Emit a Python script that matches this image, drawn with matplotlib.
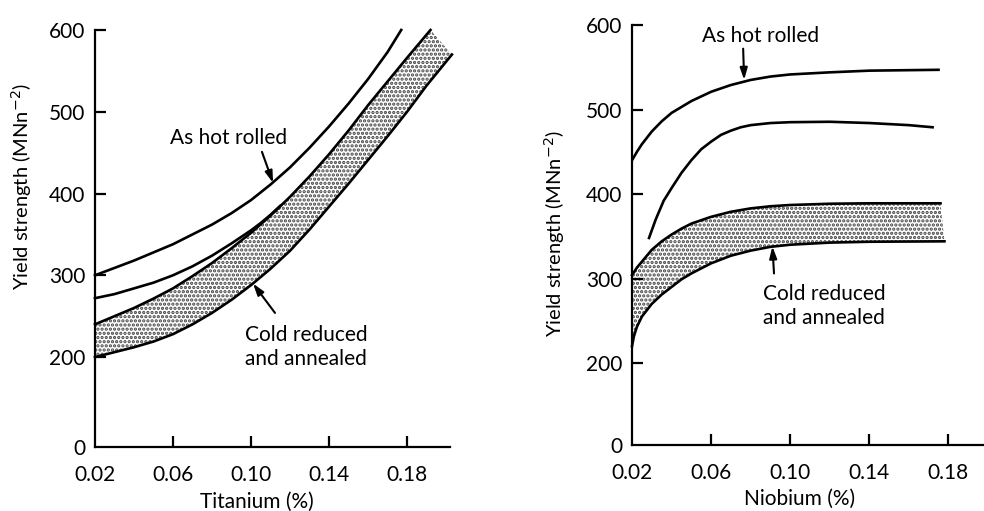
import numpy as np
import matplotlib
matplotlib.use("Agg")
import matplotlib.pyplot as plt

plt.rcParams["font.family"] = ["Lato", "DejaVu Sans"]
plt.rcParams["hatch.linewidth"] = 1.6

# Titanium panel (left)
ti_top_x = [0.02, 0.03, 0.04, 0.05, 0.06, 0.07, 0.08, 0.09, 0.10, 0.11, 0.12,
            0.13, 0.14, 0.15, 0.16, 0.17, 0.177]
ti_top_y = [300, 309, 318, 328, 338, 350, 362, 376, 392, 411, 432,
            456, 482, 510, 540, 573, 600]
ti_mid_x = [0.02, 0.03, 0.04, 0.05, 0.06, 0.07, 0.08, 0.09, 0.10, 0.105, 0.11, 0.115]
ti_mid_y = [272, 277, 284, 291, 300, 311, 324, 339, 355, 364, 374, 385]
ti_band_hi_x = [0.02, 0.03, 0.04, 0.05, 0.06, 0.07, 0.08, 0.09, 0.10, 0.11, 0.12,
                0.13, 0.14, 0.15, 0.16, 0.17, 0.18, 0.192]
ti_band_hi_y = [240, 250, 260, 271.5, 284, 299, 315, 333, 352, 373, 396,
                421, 448, 477, 508, 537, 566, 600]
ti_band_lo_x = [0.02, 0.03, 0.04, 0.05, 0.06, 0.07, 0.08, 0.09, 0.10, 0.11, 0.12,
                0.13, 0.14, 0.15, 0.16, 0.17, 0.18, 0.19, 0.203]
ti_band_lo_y = [200, 206, 212, 219, 228, 240, 254, 270, 288, 308, 330,
                356, 384, 412, 441, 470, 500, 532, 570]

# Niobium panel (right)
nb_top_x = [0.02, 0.0225, 0.025, 0.03, 0.035, 0.04, 0.045, 0.05, 0.06, 0.07, 0.08,
            0.09, 0.10, 0.12, 0.14, 0.175]
nb_top_y = [440, 450, 459, 474, 486, 496, 503, 510, 521, 529, 535,
            539, 541.5, 544, 546, 547]
nb_mid_x = [0.0286, 0.032, 0.036, 0.04, 0.045, 0.05, 0.055, 0.06, 0.065, 0.07, 0.075,
            0.08, 0.09, 0.10, 0.12, 0.14, 0.16, 0.172]
nb_mid_y = [348, 370, 392, 407, 425, 440, 453, 462, 470, 475, 479,
            481.5, 484, 485, 485.5, 484, 481.5, 479]
nb_band_hi_x = [0.02, 0.0225, 0.025, 0.03, 0.035, 0.04, 0.045, 0.05, 0.06, 0.07, 0.08,
                0.09, 0.10, 0.12, 0.14, 0.176]
nb_band_hi_y = [304, 313, 320, 334, 344, 352, 359, 365, 373, 379, 383,
                385.5, 387, 388.5, 389, 389]
nb_band_lo_x = [0.02, 0.021, 0.0225, 0.025, 0.03, 0.035, 0.04, 0.045, 0.05, 0.06, 0.07,
                0.08, 0.09, 0.10, 0.12, 0.14, 0.178]
nb_band_lo_y = [220, 232, 243, 255, 270, 281, 290, 299, 306, 318, 327,
                333, 337.5, 340, 342.5, 343.5, 344]

x_ticks = [0.02, 0.06, 0.10, 0.14, 0.18]
x_labels = ["0.02", "0.06", "0.10", "0.14", "0.18"]
y_ticks = [200, 300, 400, 500, 600]
y_labels = ["200", "300", "400", "500", "600"]

FS = 15
LW = 1.9


def style_axes(ax, y_zero, xmax):
    ax.set_xlim(0.02, xmax)
    ax.set_ylim(y_zero, 603)
    for s in ["top", "right"]:
        ax.spines[s].set_visible(False)
    ax.spines["left"].set_bounds(y_zero, 600)
    for s in ["left", "bottom"]:
        ax.spines[s].set_linewidth(1.6)
    ax.set_xticks(x_ticks)
    ax.set_xticklabels(x_labels)
    ax.set_yticks([y_zero] + y_ticks)
    ax.set_yticklabels(["0"] + y_labels)
    ax.tick_params(direction="in", length=8, width=1.6, labelsize=FS)
    ax.tick_params(axis="x", pad=13)
    ax.tick_params(axis="y", pad=7)
    ax.yaxis.get_major_ticks()[0].tick1line.set_visible(False)
    ax.xaxis.get_major_ticks()[0].tick1line.set_visible(False)
    ax.set_ylabel("Yield strength (MNn$^{-2}$)", fontsize=FS - 0.5)


def draw_band(ax, hx, hy, lx, ly):
    ax.fill(np.concatenate([hx, lx[::-1]]), np.concatenate([hy, ly[::-1]]),
            facecolor="white", edgecolor="#444444", linewidth=0, hatch="....",
            zorder=1, clip_on=False)
    ax.plot(hx, hy, color="black", lw=LW, clip_on=False, zorder=3)
    ax.plot(lx, ly, color="black", lw=LW, clip_on=False, zorder=3)


def arrow(ax, tip, tail):
    ax.annotate("", xy=tip, xytext=tail,
                arrowprops=dict(arrowstyle="-|>,head_width=0.22,head_length=0.7",
                                color="black", lw=1.5, shrinkA=0, shrinkB=0))


fig = plt.figure(figsize=(9.84, 5.11), dpi=100)

# left
ax1 = fig.add_axes([0.0965, 0.1252, 0.3608, 0.8209])
style_axes(ax1, 90, 0.202)
draw_band(ax1, np.array(ti_band_hi_x), np.array(ti_band_hi_y),
          np.array(ti_band_lo_x), np.array(ti_band_lo_y))
ax1.plot(ti_top_x, ti_top_y, color="black", lw=LW, clip_on=False, zorder=3)
ax1.plot(ti_mid_x, ti_mid_y, color="black", lw=LW, clip_on=False, zorder=3)
ax1.text(0.0585, 468, "As hot rolled", fontsize=FS, va="center", ha="left")
arrow(ax1, (0.1113, 413), (0.1056, 451))
ax1.text(0.0969, 212, "Cold reduced\nand annealed", fontsize=FS, va="center",
         ha="left", linespacing=1.25)
arrow(ax1, (0.101, 290), (0.1123, 254))
ax1.set_xlabel("Titanium (%)", fontsize=FS)
ax1.yaxis.set_label_coords(-0.172, 0.62)
ax1.xaxis.set_label_coords(0.456, -0.106)

# right
ax2 = fig.add_axes([0.6423, 0.1292, 0.3577, 0.8268])
style_axes(ax2, 103, 0.198)
draw_band(ax2, np.array(nb_band_hi_x), np.array(nb_band_hi_y),
          np.array(nb_band_lo_x), np.array(nb_band_lo_y))
ax2.plot(nb_top_x, nb_top_y, color="black", lw=LW, zorder=3)
ax2.plot(nb_mid_x, nb_mid_y, color="black", lw=LW, zorder=3)
ax2.text(0.0554, 587, "As hot rolled", fontsize=FS, va="center", ha="left")
arrow(ax2, (0.0767, 535), (0.0762, 572))
ax2.text(0.0863, 268, "Cold reduced\nand annealed", fontsize=FS, va="center",
         ha="left", linespacing=1.25)
arrow(ax2, (0.091, 338), (0.0918, 306))
ax2.set_xlabel("Niobium (%)", fontsize=FS)
ax2.yaxis.set_label_coords(-0.185, 0.5)
ax2.xaxis.set_label_coords(0.477, -0.103)

fig.savefig("out.png", dpi=100)
